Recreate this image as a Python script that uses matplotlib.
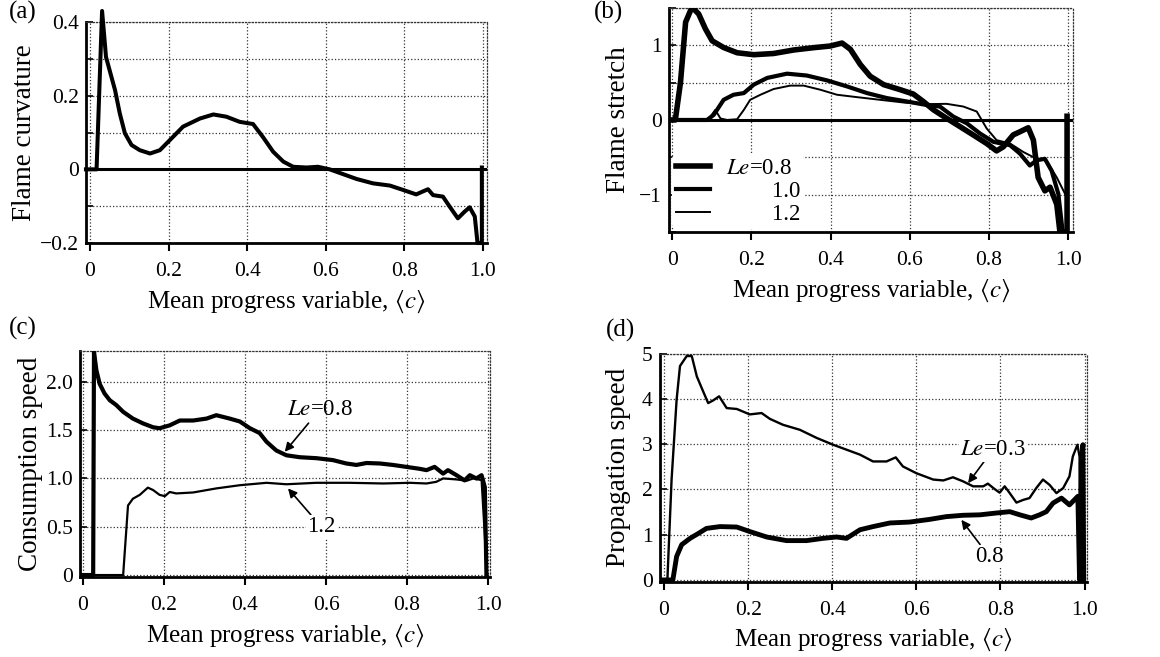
import matplotlib
matplotlib.use('Agg')
import matplotlib.pyplot as plt

plt.rcParams['font.family'] = ['Liberation Serif', 'DejaVu Serif']
plt.rcParams['mathtext.fontset'] = 'stix'

# (a) flame curvature
a_x = [-0.01, 0.017, 0.031, 0.041, 0.064, 0.076, 0.089, 0.106, 0.127, 0.153, 0.178, 0.203,
       0.237, 0.28, 0.314, 0.347, 0.381, 0.415, 0.44, 0.466, 0.492, 0.517, 0.551, 0.58,
       0.61, 0.644, 0.678, 0.72, 0.763, 0.797, 0.83, 0.847, 0.86, 0.873, 0.898, 0.915,
       0.936, 0.953, 0.966, 0.979, 0.986, 0.997, 0.997]
a_y = [0.0, 0.0, 0.43, 0.305, 0.215, 0.152, 0.098, 0.066, 0.052, 0.043, 0.052, 0.079,
       0.116, 0.138, 0.149, 0.143, 0.129, 0.123, 0.088, 0.048, 0.021, 0.007, 0.005, 0.007,
       0.0, -0.013, -0.026, -0.038, -0.044, -0.056, -0.068, -0.06, -0.054, -0.07, -0.074, -0.101,
       -0.133, -0.115, -0.103, -0.128, -0.2, -0.2, 0.005]

# (b) flame stretch, Le = 0.8, 1.0, 1.2
b08_x = [-0.008, 0.008, 0.021, 0.034, 0.05, 0.067, 0.084, 0.101, 0.13, 0.164, 0.206, 0.256,
         0.307, 0.357, 0.399, 0.429, 0.45, 0.475, 0.5, 0.534, 0.576, 0.609, 0.634, 0.66,
         0.693, 0.727, 0.76, 0.794, 0.819, 0.836, 0.861, 0.878, 0.899, 0.912, 0.924, 0.941,
         0.954, 0.971, 0.979, 0.997, 0.997]
b08_y = [0.0, 0.0, 0.5, 1.31, 1.51, 1.42, 1.22, 1.06, 0.97, 0.9, 0.874, 0.89,
         0.937, 0.968, 0.99, 1.03, 0.946, 0.743, 0.586, 0.473, 0.405, 0.347, 0.248, 0.135,
         0.022, -0.09, -0.2, -0.315, -0.414, -0.36, -0.2, -0.158, -0.104, -0.27, -0.77, -0.95,
         -0.9, -1.13, -1.5, -1.5, 0.05]
b10_x = [-0.008, 0.088, 0.105, 0.13, 0.155, 0.181, 0.206, 0.24, 0.29, 0.34, 0.391, 0.441,
         0.492, 0.542, 0.592, 0.643, 0.676, 0.71, 0.744, 0.777, 0.811, 0.853, 0.878, 0.903,
         0.92, 0.941, 0.958, 0.975, 0.986]
b10_y = [0.0, 0.0, 0.068, 0.27, 0.338, 0.36, 0.473, 0.563, 0.62, 0.595, 0.53, 0.45,
         0.36, 0.293, 0.248, 0.2, 0.18, 0.045, -0.045, -0.18, -0.293, -0.338, -0.45, -0.61,
         -0.54, -0.52, -0.68, -0.99, -1.5]
b12_x = [-0.008, 0.092, 0.109, 0.122, 0.139, 0.164, 0.181, 0.197, 0.223, 0.256, 0.298, 0.332,
         0.374, 0.416, 0.466, 0.525, 0.584, 0.643, 0.693, 0.735, 0.769, 0.794, 0.819, 0.853,
         0.887, 0.92, 0.945, 0.971, 0.992]
b12_y = [0.0, 0.01, 0.135, 0.02, 0.0, 0.01, 0.135, 0.27, 0.338, 0.414, 0.46, 0.46,
         0.405, 0.338, 0.306, 0.27, 0.234, 0.212, 0.216, 0.18, 0.113, -0.113, -0.27, -0.315,
         -0.43, -0.52, -0.54, -0.77, -0.99]

# (c) consumption speed, Le = 0.8, 1.2
c08_x = [-0.008, 0.025, 0.027, 0.033, 0.041, 0.053, 0.066, 0.082, 0.099, 0.123, 0.148, 0.173,
         0.189, 0.214, 0.239, 0.272, 0.305, 0.329, 0.362, 0.387, 0.412, 0.436, 0.453, 0.477,
         0.502, 0.535, 0.576, 0.617, 0.65, 0.675, 0.7, 0.733, 0.765, 0.798, 0.831, 0.848,
         0.868, 0.889, 0.901, 0.922, 0.942, 0.955, 0.971, 0.984, 0.992, 0.996]
c08_y = [0.0, 0.0, 2.31, 2.12, 1.98, 1.88, 1.81, 1.76, 1.69, 1.62, 1.57, 1.53,
         1.52, 1.55, 1.6, 1.6, 1.62, 1.655, 1.62, 1.59, 1.52, 1.47, 1.38, 1.29,
         1.24, 1.22, 1.21, 1.19, 1.155, 1.14, 1.16, 1.155, 1.14, 1.12, 1.1, 1.086,
         1.12, 1.05, 1.086, 1.034, 0.98, 1.034, 1.0, 1.034, 0.91, 0.0]
c12_x = [-0.008, 0.099, 0.111, 0.123, 0.14, 0.16, 0.173, 0.189, 0.202, 0.214, 0.23, 0.272,
         0.329, 0.387, 0.453, 0.502, 0.576, 0.658, 0.741, 0.807, 0.848, 0.872, 0.889, 0.922,
         0.947, 0.963, 0.984, 0.996, 0.998]
c12_y = [0.0, 0.0, 0.72, 0.79, 0.83, 0.905, 0.88, 0.83, 0.817, 0.86, 0.845, 0.855,
         0.897, 0.93, 0.955, 0.94, 0.955, 0.955, 0.948, 0.955, 0.948, 0.965, 1.0, 0.99,
         0.976, 1.0, 0.983, 0.12, 0.0]

# (d) propagation speed, Le = 0.3, 0.8
d03_x = [-0.01, 0.008, 0.018, 0.03, 0.038, 0.054, 0.066, 0.078, 0.093, 0.105, 0.117, 0.131,
         0.149, 0.173, 0.204, 0.232, 0.252, 0.283, 0.323, 0.363, 0.402, 0.434, 0.466, 0.497,
         0.529, 0.551, 0.568, 0.6, 0.64, 0.664, 0.687, 0.711, 0.735, 0.759, 0.77, 0.786,
         0.798, 0.81, 0.822, 0.838, 0.854, 0.869, 0.885, 0.901, 0.917, 0.933, 0.949, 0.964,
         0.972, 0.983, 0.988, 0.992, 0.994, 0.998]
d03_y = [0.0, 0.0, 2.22, 3.99, 4.73, 4.95, 4.95, 4.5, 4.17, 3.91, 3.97, 4.06,
         3.8, 3.78, 3.66, 3.69, 3.56, 3.43, 3.32, 3.14, 2.99, 2.88, 2.77, 2.62,
         2.62, 2.71, 2.51, 2.36, 2.22, 2.2, 2.27, 2.18, 2.07, 2.07, 2.13, 2.01,
         1.93, 2.07, 1.92, 1.71, 1.77, 1.81, 2.03, 2.22, 2.1, 1.92, 2.03, 2.29,
         2.73, 2.99, 2.73, 0.37, 2.99, 0.0]
d08_x = [-0.01, 0.021, 0.03, 0.042, 0.062, 0.082, 0.101, 0.133, 0.173, 0.204, 0.244, 0.291,
         0.339, 0.378, 0.41, 0.434, 0.466, 0.497, 0.537, 0.584, 0.632, 0.671, 0.711, 0.751,
         0.79, 0.822, 0.846, 0.873, 0.893, 0.909, 0.925, 0.945, 0.964, 0.984, 0.988, 0.992,
         0.996, 0.998]
d08_y = [0.0, 0.0, 0.52, 0.78, 0.92, 1.03, 1.14, 1.18, 1.17, 1.07, 0.95, 0.87,
         0.87, 0.92, 0.95, 0.92, 1.11, 1.18, 1.26, 1.28, 1.34, 1.4, 1.43, 1.44,
         1.48, 1.51, 1.44, 1.37, 1.44, 1.51, 1.7, 1.81, 1.66, 1.85, 0.0, 2.58,
         2.99, 0.0]

x_ticks = [0, 0.2, 0.4, 0.6, 0.8, 1.0]
x_labels = ['0', '0.2', '0.4', '0.6', '0.8', '1.0']
xlabel_text = r'Mean progress variable, $\langle c\rangle$'

TICK = 15.5
XL = 18
YL = 19.5
NOTE = 16.5


def style_axes(ax, xlim, ylim, yticks, ylabels, ygrid):
  """Frame, grid and ticks in the look of the scanned figure."""
  ax.set_xlim(*xlim)
  ax.set_ylim(*ylim)
  ax.set_xticks(x_ticks)
  ax.set_xticklabels(x_labels, fontsize=TICK)
  ax.set_yticks(yticks)
  ax.set_yticklabels(ylabels, fontsize=TICK)
  ax.set_yticks(ygrid, minor=True)
  ax.tick_params(axis='x', direction='out', length=6, width=1.5, pad=8)
  ax.tick_params(axis='y', which='both', direction='in', length=5, width=1.2, pad=5)
  ax.grid(True, which='major', axis='x', linestyle=':', color='#333333', linewidth=0.9)
  ax.grid(True, which='both', axis='y', linestyle=':', color='#333333', linewidth=0.9)
  for side in ['left', 'bottom']:
    ax.spines[side].set_linewidth(2.0)
  for side in ['top', 'right']:
    ax.spines[side].set_linestyle(':')
    ax.spines[side].set_linewidth(0.9)
    ax.spines[side].set_color('#333333')
  ax.set_xlabel(xlabel_text, fontsize=XL, labelpad=5)


fig = plt.figure(figsize=(11.6, 6.57), dpi=100)

# (a)
ax_a = fig.add_axes([0.0741, 0.6301, 0.3457, 0.3364])
ax_a.axhline(0, color='black', linewidth=2.2)
ax_a.plot(a_x, a_y, color='black', linewidth=2.9, clip_on=False, zorder=5)
style_axes(ax_a, (-0.01, 1.01), (-0.2, 0.4), [-0.2, 0, 0.2, 0.4],
           ['\u22120.2', '0', '0.2', '0.4'], [-0.1, 0.1, 0.3])
ax_a.set_ylabel('Flame curvature', fontsize=YL, labelpad=2)

# (b)
ax_b = fig.add_axes([0.5767, 0.6469, 0.3483, 0.341])
ax_b.axhline(0, color='black', linewidth=2.2)
line08, = ax_b.plot(b08_x, b08_y, color='black', linewidth=4.0, zorder=5)
line10, = ax_b.plot(b10_x, b10_y, color='black', linewidth=3.0, zorder=5)
line12, = ax_b.plot(b12_x, b12_y, color='black', linewidth=1.4, zorder=5)
style_axes(ax_b, (-0.008, 1.012), (-1.5, 1.5), [-1, 0, 1],
           ['\u22121', '0', '1'], [-1.5, -0.5, 0.5, 1.5])
ax_b.set_ylabel('Flame stretch', fontsize=YL, labelpad=6)
leg = ax_b.legend([line08, line10, line12],
                  ['$Le$=0.8', '        1.0', '        1.2'],
                  loc='lower left', bbox_to_anchor=(0.0, 0.0), fontsize=NOTE,
                  handlelength=1.5, handletextpad=0.7, labelspacing=0.08,
                  frameon=True, facecolor='white', edgecolor='none', framealpha=1,
                  borderpad=0.15, borderaxespad=0.15)
leg.set_zorder(6)

# (c)
ax_c = fig.add_axes([0.0688, 0.1218, 0.3537, 0.344])
ax_c.plot(c08_x, c08_y, color='black', linewidth=3.0, zorder=5)
ax_c.plot(c12_x, c12_y, color='black', linewidth=1.6, zorder=5)
style_axes(ax_c, (-0.008, 1.005), (-0.02, 2.32), [0, 0.5, 1.0, 1.5, 2.0],
           ['0', '0.5', '1.0', '1.5', '2.0'], [])
ax_c.set_ylabel('Consumption speed', fontsize=YL, labelpad=2)
arrow = dict(arrowstyle='-|>', color='black', linewidth=1.2, mutation_scale=13,
             shrinkA=0, shrinkB=0)
ax_c.annotate('$Le$=0.8', xy=(0.498, 1.276), xytext=(0.584, 1.71), fontsize=NOTE,
              ha='center', va='center', arrowprops=arrow, zorder=7)
ax_c.annotate('1.2', xy=(0.506, 0.897), xytext=(0.588, 0.5), fontsize=NOTE,
              ha='center', va='center', arrowprops=arrow, zorder=7,
              bbox=dict(facecolor='white', edgecolor='none', pad=1))

# (d)
ax_d = fig.add_axes([0.5688, 0.1145, 0.368, 0.347])
ax_d.plot(d03_x, d03_y, color='black', linewidth=1.7, zorder=5)
ax_d.plot(d08_x, d08_y, color='black', linewidth=3.5, zorder=5)
style_axes(ax_d, (-0.01, 1.005), (-0.04, 5.0), [0, 1, 2, 3, 4, 5],
           ['0', '1', '2', '3', '4', '5'], [])
ax_d.set_ylabel('Propagation speed', fontsize=YL, labelpad=8)
ax_d.annotate('$Le$=0.3', xy=(0.723, 2.14), xytext=(0.782, 2.88), fontsize=NOTE,
              ha='center', va='center', arrowprops=arrow, zorder=7,
              bbox=dict(facecolor='white', edgecolor='none', pad=1))
ax_d.annotate('0.8', xy=(0.707, 1.33), xytext=(0.773, 0.52), fontsize=NOTE,
              ha='center', va='center', arrowprops=arrow, zorder=7,
              bbox=dict(facecolor='white', edgecolor='none', pad=1))

# panel letters
fig.text(0.008, 0.998, '(a)', fontsize=18, ha='left', va='top')
fig.text(0.512, 0.998, '(b)', fontsize=18, ha='left', va='top')
fig.text(0.008, 0.518, '(c)', fontsize=18, ha='left', va='top')
fig.text(0.522, 0.515, '(d)', fontsize=18, ha='left', va='top')

fig.savefig('out.png', dpi=100)
